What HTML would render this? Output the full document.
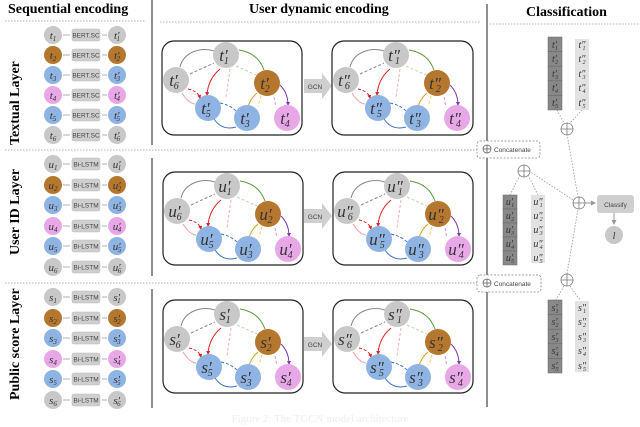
<!DOCTYPE html>
<html><head><meta charset="utf-8"><style>
html,body{margin:0;padding:0;background:#fff}
svg{display:block}
.h{font-family:"Liberation Serif",serif;font-weight:bold;font-size:14px}
.v{font-family:"Liberation Serif",serif;font-style:italic;fill:#333}
.sm{font-family:"Liberation Sans",sans-serif;font-size:6.5px;fill:#444}
</style></head><body>
<svg width="640" height="427" viewBox="0 0 640 427" xmlns="http://www.w3.org/2000/svg">
<defs>
<marker id="ar" markerWidth="5" markerHeight="5" refX="4" refY="2.5" orient="auto"><path d="M0,0L5,2.5L0,5z" fill="#999"/></marker>
<marker id="am" markerWidth="4" markerHeight="4" refX="3" refY="2" orient="auto"><path d="M0,0L4,2L0,4z" fill="context-stroke"/></marker>
</defs>
<text class="h" x="8" y="13">Sequential  encoding</text>
<text class="h" x="249" y="13">User dynamic encoding</text>
<text class="h" x="526" y="16">Classification</text>
<g stroke="#999" stroke-dasharray="1.5,1.5" stroke-width="0.8">
<line x1="5" y1="21" x2="145" y2="21"/><line x1="160" y1="22" x2="480" y2="22"/><line x1="490" y1="24" x2="640" y2="24"/>
<line x1="5" y1="150" x2="480" y2="150"/><line x1="5" y1="283" x2="480" y2="283"/>
</g>
<g stroke="#444" stroke-width="1.2">
<line x1="152" y1="0" x2="152" y2="145"/><line x1="152" y1="158" x2="152" y2="276"/><line x1="152" y1="289" x2="152" y2="408"/>
<line x1="487" y1="4" x2="487" y2="407"/>
</g>
<g class="h" font-size="15">
<text transform="translate(19,145) rotate(-90)">Textual Layer</text>
<text transform="translate(19,255) rotate(-90)">User ID Layer</text>
<text transform="translate(19,400) rotate(-90)">Public score Layer</text>
</g>

<g font-size="10">
<g>
<circle cx="53" cy="35" r="9" fill="#c8c8c8"/><circle cx="53" cy="55" r="9" fill="#b5772e"/><circle cx="53" cy="75" r="9" fill="#8fb4e3"/><circle cx="53" cy="95" r="9" fill="#e8a8e8"/><circle cx="53" cy="115" r="9" fill="#8fb4e3"/><circle cx="53" cy="135" r="9" fill="#c8c8c8"/>
<circle cx="117" cy="35" r="9" fill="#c8c8c8"/><circle cx="117" cy="55" r="9" fill="#b5772e"/><circle cx="117" cy="75" r="9" fill="#8fb4e3"/><circle cx="117" cy="95" r="9" fill="#e8a8e8"/><circle cx="117" cy="115" r="9" fill="#8fb4e3"/><circle cx="117" cy="135" r="9" fill="#c8c8c8"/>
<circle cx="53" cy="164" r="9" fill="#c8c8c8"/><circle cx="53" cy="185" r="9" fill="#b5772e"/><circle cx="53" cy="205" r="9" fill="#8fb4e3"/><circle cx="53" cy="226" r="9" fill="#e8a8e8"/><circle cx="53" cy="246" r="9" fill="#8fb4e3"/><circle cx="53" cy="267" r="9" fill="#c8c8c8"/>
<circle cx="117" cy="164" r="9" fill="#c8c8c8"/><circle cx="117" cy="185" r="9" fill="#b5772e"/><circle cx="117" cy="205" r="9" fill="#8fb4e3"/><circle cx="117" cy="226" r="9" fill="#e8a8e8"/><circle cx="117" cy="246" r="9" fill="#8fb4e3"/><circle cx="117" cy="267" r="9" fill="#c8c8c8"/>
<circle cx="53" cy="297" r="9" fill="#c8c8c8"/><circle cx="53" cy="318" r="9" fill="#b5772e"/><circle cx="53" cy="338" r="9" fill="#8fb4e3"/><circle cx="53" cy="359" r="9" fill="#e8a8e8"/><circle cx="53" cy="379" r="9" fill="#8fb4e3"/><circle cx="53" cy="400" r="9" fill="#c8c8c8"/>
<circle cx="117" cy="297" r="9" fill="#c8c8c8"/><circle cx="117" cy="318" r="9" fill="#b5772e"/><circle cx="117" cy="338" r="9" fill="#8fb4e3"/><circle cx="117" cy="359" r="9" fill="#e8a8e8"/><circle cx="117" cy="379" r="9" fill="#8fb4e3"/><circle cx="117" cy="400" r="9" fill="#c8c8c8"/>
</g>
<g fill="#cfcfcf" stroke="#bbb" stroke-width="0.5">
<rect x="72" y="29" width="28" height="12" rx="2"/><rect x="72" y="49" width="28" height="12" rx="2"/><rect x="72" y="69" width="28" height="12" rx="2"/><rect x="72" y="89" width="28" height="12" rx="2"/><rect x="72" y="109" width="28" height="12" rx="2"/><rect x="72" y="129" width="28" height="12" rx="2"/>
<rect x="72" y="158" width="28" height="12" rx="2"/><rect x="72" y="179" width="28" height="12" rx="2"/><rect x="72" y="199" width="28" height="12" rx="2"/><rect x="72" y="220" width="28" height="12" rx="2"/><rect x="72" y="240" width="28" height="12" rx="2"/><rect x="72" y="261" width="28" height="12" rx="2"/>
<rect x="72" y="291" width="28" height="12" rx="2"/><rect x="72" y="312" width="28" height="12" rx="2"/><rect x="72" y="332" width="28" height="12" rx="2"/><rect x="72" y="353" width="28" height="12" rx="2"/><rect x="72" y="373" width="28" height="12" rx="2"/><rect x="72" y="394" width="28" height="12" rx="2"/>
</g>
<g stroke="#999" stroke-width="0.8">
<path d="M63,35h7M102,35h5M63,55h7M102,55h5M63,75h7M102,75h5M63,95h7M102,95h5M63,115h7M102,115h5M63,135h7M102,135h5"/>
<path d="M63,164h7M102,164h5M63,185h7M102,185h5M63,205h7M102,205h5M63,226h7M102,226h5M63,246h7M102,246h5M63,267h7M102,267h5"/>
<path d="M63,297h7M102,297h5M63,318h7M102,318h5M63,338h7M102,338h5M63,359h7M102,359h5M63,379h7M102,379h5M63,400h7M102,400h5"/>
</g>
<g class="sm" text-anchor="middle">
<text x="86" y="37.5">BERT.SC</text><text x="86" y="57.5">BERT.SC</text><text x="86" y="77.5">BERT.SC</text><text x="86" y="97.5">BERT.SC</text><text x="86" y="117.5">BERT.SC</text><text x="86" y="137.5">BERT.SC</text>
<text x="86" y="166.5">Bi-LSTM</text><text x="86" y="187.5">Bi-LSTM</text><text x="86" y="207.5">Bi-LSTM</text><text x="86" y="228.5">Bi-LSTM</text><text x="86" y="248.5">Bi-LSTM</text><text x="86" y="269.5">Bi-LSTM</text>
<text x="86" y="299.5">Bi-LSTM</text><text x="86" y="320.5">Bi-LSTM</text><text x="86" y="340.5">Bi-LSTM</text><text x="86" y="361.5">Bi-LSTM</text><text x="86" y="381.5">Bi-LSTM</text><text x="86" y="402.5">Bi-LSTM</text>
</g>
<g class="v" font-size="11" text-anchor="middle">
<text x="53" y="39">t<tspan font-size="7" dy="2">1</tspan></text><text x="53" y="59">t<tspan font-size="7" dy="2">2</tspan></text><text x="53" y="79">t<tspan font-size="7" dy="2">3</tspan></text><text x="53" y="99">t<tspan font-size="7" dy="2">4</tspan></text><text x="53" y="119">t<tspan font-size="7" dy="2">5</tspan></text><text x="53" y="139">t<tspan font-size="7" dy="2">6</tspan></text>
<text x="117" y="39">t′<tspan font-size="7" dy="2" dx="-3">1</tspan></text><text x="117" y="59">t′<tspan font-size="7" dy="2" dx="-3">2</tspan></text><text x="117" y="79">t′<tspan font-size="7" dy="2" dx="-3">3</tspan></text><text x="117" y="99">t′<tspan font-size="7" dy="2" dx="-3">4</tspan></text><text x="117" y="119">t′<tspan font-size="7" dy="2" dx="-3">5</tspan></text><text x="117" y="139">t′<tspan font-size="7" dy="2" dx="-3">6</tspan></text>
<text x="53" y="168">u<tspan font-size="7" dy="2">1</tspan></text><text x="53" y="189">u<tspan font-size="7" dy="2">2</tspan></text><text x="53" y="209">u<tspan font-size="7" dy="2">3</tspan></text><text x="53" y="230">u<tspan font-size="7" dy="2">4</tspan></text><text x="53" y="250">u<tspan font-size="7" dy="2">5</tspan></text><text x="53" y="271">u<tspan font-size="7" dy="2">6</tspan></text>
<text x="117" y="168">u′<tspan font-size="7" dy="2" dx="-3">1</tspan></text><text x="117" y="189">u′<tspan font-size="7" dy="2" dx="-3">2</tspan></text><text x="117" y="209">u′<tspan font-size="7" dy="2" dx="-3">3</tspan></text><text x="117" y="230">u′<tspan font-size="7" dy="2" dx="-3">4</tspan></text><text x="117" y="250">u′<tspan font-size="7" dy="2" dx="-3">5</tspan></text><text x="117" y="271">u′<tspan font-size="7" dy="2" dx="-3">6</tspan></text>
<text x="53" y="301">s<tspan font-size="7" dy="2">1</tspan></text><text x="53" y="322">s<tspan font-size="7" dy="2">2</tspan></text><text x="53" y="342">s<tspan font-size="7" dy="2">3</tspan></text><text x="53" y="363">s<tspan font-size="7" dy="2">4</tspan></text><text x="53" y="383">s<tspan font-size="7" dy="2">5</tspan></text><text x="53" y="404">s<tspan font-size="7" dy="2">6</tspan></text>
<text x="117" y="301">s′<tspan font-size="7" dy="2" dx="-3">1</tspan></text><text x="117" y="322">s′<tspan font-size="7" dy="2" dx="-3">2</tspan></text><text x="117" y="342">s′<tspan font-size="7" dy="2" dx="-3">3</tspan></text><text x="117" y="363">s′<tspan font-size="7" dy="2" dx="-3">4</tspan></text><text x="117" y="383">s′<tspan font-size="7" dy="2" dx="-3">5</tspan></text><text x="117" y="404">s′<tspan font-size="7" dy="2" dx="-3">6</tspan></text>
</g>
</g>

<g fill="#cfcfcf">
<path d="M304,79h18v-6l10,13l-10,13v-6h-18z"/>
<path d="M304,209h18v-6l10,13l-10,13v-6h-18z"/>
<path d="M304,337h18v-6l10,13l-10,13v-6h-18z"/>
</g>
<g class="sm" font-size="8" text-anchor="middle"><text x="315" y="89">GCN</text><text x="315" y="219">GCN</text><text x="315" y="347">GCN</text></g>

<g fill="none" stroke="#222" stroke-width="1.2">
<rect x="162" y="41" width="140" height="94" rx="12"/><rect x="332" y="41" width="141" height="94" rx="12"/>
<rect x="163" y="172" width="140" height="93" rx="12"/><rect x="333" y="172" width="140" height="93" rx="12"/>
<rect x="163" y="300" width="140" height="93" rx="12"/><rect x="333" y="300" width="140" height="93" rx="12"/>
</g>
<g transform="translate(162,41)">
<g fill="none" stroke-width="1">
<path d="M18,26C22,10 40,6 52,10" stroke="#888"/><path d="M28,33L52,22" stroke="#888" stroke-dasharray="3,2"/>
<path d="M77,9Q96,12 102,29" stroke="#5a9a3a"/><path d="M74,25L94,34" stroke="#b8d8a0" stroke-dasharray="3,2"/>
<path d="M58,28Q46,38 45,54" stroke="#e02020" marker-end="url(#am)"/><path d="M68,28L64,56" stroke="#f4b0b0" stroke-dasharray="3,2"/>
<path d="M26,48Q36,50 38,57" stroke="#e02020" stroke-dasharray="3,2" marker-end="url(#am)"/><path d="M20,52Q26,62 33,63" stroke="#f4a0a0"/>
<path d="M58,62Q68,64 74,70" stroke="#3a70c0" stroke-dasharray="3,2"/><path d="M52,78Q60,90 74,86" stroke="#3a70c0"/>
<path d="M95,52Q88,58 86,66" stroke="#d4a020"/><path d="M99,55L96,65" stroke="#f0d060" stroke-dasharray="3,2"/>
<path d="M118,44Q126,52 126,64" stroke="#7a3aaa" marker-end="url(#am)"/><path d="M112,56L114,66" stroke="#c8a0e0" stroke-dasharray="3,2"/>
</g>
<circle cx="64" cy="14" r="13" fill="#c8c8c8"/><circle cx="14" cy="39" r="13" fill="#c8c8c8"/><circle cx="105" cy="42" r="13" fill="#b5772e"/>
<circle cx="46" cy="67" r="13" fill="#8fb4e3"/><circle cx="85" cy="77" r="13" fill="#8fb4e3"/><circle cx="125" cy="77" r="13" fill="#e8a8e8"/>
</g>
<g transform="translate(332,41)">
<g fill="none" stroke-width="1">
<path d="M18,26C22,10 40,6 52,10" stroke="#888"/><path d="M28,33L52,22" stroke="#888" stroke-dasharray="3,2"/>
<path d="M77,9Q96,12 102,29" stroke="#5a9a3a"/><path d="M74,25L94,34" stroke="#b8d8a0" stroke-dasharray="3,2"/>
<path d="M58,28Q46,38 45,54" stroke="#e02020" marker-end="url(#am)"/><path d="M68,28L64,56" stroke="#f4b0b0" stroke-dasharray="3,2"/>
<path d="M26,48Q36,50 38,57" stroke="#e02020" stroke-dasharray="3,2" marker-end="url(#am)"/><path d="M20,52Q26,62 33,63" stroke="#f4a0a0"/>
<path d="M58,62Q68,64 74,70" stroke="#3a70c0" stroke-dasharray="3,2"/><path d="M52,78Q60,90 74,86" stroke="#3a70c0"/>
<path d="M95,52Q88,58 86,66" stroke="#d4a020"/><path d="M99,55L96,65" stroke="#f0d060" stroke-dasharray="3,2"/>
<path d="M118,44Q126,52 126,64" stroke="#7a3aaa" marker-end="url(#am)"/><path d="M112,56L114,66" stroke="#c8a0e0" stroke-dasharray="3,2"/>
</g>
<circle cx="64" cy="14" r="13" fill="#c8c8c8"/><circle cx="14" cy="39" r="13" fill="#c8c8c8"/><circle cx="105" cy="42" r="13" fill="#b5772e"/>
<circle cx="46" cy="67" r="13" fill="#8fb4e3"/><circle cx="85" cy="77" r="13" fill="#8fb4e3"/><circle cx="125" cy="77" r="13" fill="#e8a8e8"/>
</g>
<g transform="translate(163,172)">
<g fill="none" stroke-width="1">
<path d="M18,26C22,10 40,6 52,10" stroke="#888"/><path d="M28,33L52,22" stroke="#888" stroke-dasharray="3,2"/>
<path d="M77,9Q96,12 102,29" stroke="#5a9a3a"/><path d="M74,25L94,34" stroke="#b8d8a0" stroke-dasharray="3,2"/>
<path d="M58,28Q46,38 45,54" stroke="#e02020" marker-end="url(#am)"/><path d="M68,28L64,56" stroke="#f4b0b0" stroke-dasharray="3,2"/>
<path d="M26,48Q36,50 38,57" stroke="#e02020" stroke-dasharray="3,2" marker-end="url(#am)"/><path d="M20,52Q26,62 33,63" stroke="#f4a0a0"/>
<path d="M58,62Q68,64 74,70" stroke="#3a70c0" stroke-dasharray="3,2"/><path d="M52,78Q60,90 74,86" stroke="#3a70c0"/>
<path d="M95,52Q88,58 86,66" stroke="#d4a020"/><path d="M99,55L96,65" stroke="#f0d060" stroke-dasharray="3,2"/>
<path d="M118,44Q126,52 126,64" stroke="#7a3aaa" marker-end="url(#am)"/><path d="M112,56L114,66" stroke="#c8a0e0" stroke-dasharray="3,2"/>
</g>
<circle cx="64" cy="14" r="13" fill="#c8c8c8"/><circle cx="14" cy="39" r="13" fill="#c8c8c8"/><circle cx="105" cy="42" r="13" fill="#b5772e"/>
<circle cx="46" cy="67" r="13" fill="#8fb4e3"/><circle cx="85" cy="77" r="13" fill="#8fb4e3"/><circle cx="125" cy="77" r="13" fill="#e8a8e8"/>
</g>
<g transform="translate(333,172)">
<g fill="none" stroke-width="1">
<path d="M18,26C22,10 40,6 52,10" stroke="#888"/><path d="M28,33L52,22" stroke="#888" stroke-dasharray="3,2"/>
<path d="M77,9Q96,12 102,29" stroke="#5a9a3a"/><path d="M74,25L94,34" stroke="#b8d8a0" stroke-dasharray="3,2"/>
<path d="M58,28Q46,38 45,54" stroke="#e02020" marker-end="url(#am)"/><path d="M68,28L64,56" stroke="#f4b0b0" stroke-dasharray="3,2"/>
<path d="M26,48Q36,50 38,57" stroke="#e02020" stroke-dasharray="3,2" marker-end="url(#am)"/><path d="M20,52Q26,62 33,63" stroke="#f4a0a0"/>
<path d="M58,62Q68,64 74,70" stroke="#3a70c0" stroke-dasharray="3,2"/><path d="M52,78Q60,90 74,86" stroke="#3a70c0"/>
<path d="M95,52Q88,58 86,66" stroke="#d4a020"/><path d="M99,55L96,65" stroke="#f0d060" stroke-dasharray="3,2"/>
<path d="M118,44Q126,52 126,64" stroke="#7a3aaa" marker-end="url(#am)"/><path d="M112,56L114,66" stroke="#c8a0e0" stroke-dasharray="3,2"/>
</g>
<circle cx="64" cy="14" r="13" fill="#c8c8c8"/><circle cx="14" cy="39" r="13" fill="#c8c8c8"/><circle cx="105" cy="42" r="13" fill="#b5772e"/>
<circle cx="46" cy="67" r="13" fill="#8fb4e3"/><circle cx="85" cy="77" r="13" fill="#8fb4e3"/><circle cx="125" cy="77" r="13" fill="#e8a8e8"/>
</g>
<g transform="translate(163,300)">
<g fill="none" stroke-width="1">
<path d="M18,26C22,10 40,6 52,10" stroke="#888"/><path d="M28,33L52,22" stroke="#888" stroke-dasharray="3,2"/>
<path d="M77,9Q96,12 102,29" stroke="#5a9a3a"/><path d="M74,25L94,34" stroke="#b8d8a0" stroke-dasharray="3,2"/>
<path d="M58,28Q46,38 45,54" stroke="#e02020" marker-end="url(#am)"/><path d="M68,28L64,56" stroke="#f4b0b0" stroke-dasharray="3,2"/>
<path d="M26,48Q36,50 38,57" stroke="#e02020" stroke-dasharray="3,2" marker-end="url(#am)"/><path d="M20,52Q26,62 33,63" stroke="#f4a0a0"/>
<path d="M58,62Q68,64 74,70" stroke="#3a70c0" stroke-dasharray="3,2"/><path d="M52,78Q60,90 74,86" stroke="#3a70c0"/>
<path d="M95,52Q88,58 86,66" stroke="#d4a020"/><path d="M99,55L96,65" stroke="#f0d060" stroke-dasharray="3,2"/>
<path d="M118,44Q126,52 126,64" stroke="#7a3aaa" marker-end="url(#am)"/><path d="M112,56L114,66" stroke="#c8a0e0" stroke-dasharray="3,2"/>
</g>
<circle cx="64" cy="14" r="13" fill="#c8c8c8"/><circle cx="14" cy="39" r="13" fill="#c8c8c8"/><circle cx="105" cy="42" r="13" fill="#b5772e"/>
<circle cx="46" cy="67" r="13" fill="#8fb4e3"/><circle cx="85" cy="77" r="13" fill="#8fb4e3"/><circle cx="125" cy="77" r="13" fill="#e8a8e8"/>
</g>
<g transform="translate(333,300)">
<g fill="none" stroke-width="1">
<path d="M18,26C22,10 40,6 52,10" stroke="#888"/><path d="M28,33L52,22" stroke="#888" stroke-dasharray="3,2"/>
<path d="M77,9Q96,12 102,29" stroke="#5a9a3a"/><path d="M74,25L94,34" stroke="#b8d8a0" stroke-dasharray="3,2"/>
<path d="M58,28Q46,38 45,54" stroke="#e02020" marker-end="url(#am)"/><path d="M68,28L64,56" stroke="#f4b0b0" stroke-dasharray="3,2"/>
<path d="M26,48Q36,50 38,57" stroke="#e02020" stroke-dasharray="3,2" marker-end="url(#am)"/><path d="M20,52Q26,62 33,63" stroke="#f4a0a0"/>
<path d="M58,62Q68,64 74,70" stroke="#3a70c0" stroke-dasharray="3,2"/><path d="M52,78Q60,90 74,86" stroke="#3a70c0"/>
<path d="M95,52Q88,58 86,66" stroke="#d4a020"/><path d="M99,55L96,65" stroke="#f0d060" stroke-dasharray="3,2"/>
<path d="M118,44Q126,52 126,64" stroke="#7a3aaa" marker-end="url(#am)"/><path d="M112,56L114,66" stroke="#c8a0e0" stroke-dasharray="3,2"/>
</g>
<circle cx="64" cy="14" r="13" fill="#c8c8c8"/><circle cx="14" cy="39" r="13" fill="#c8c8c8"/><circle cx="105" cy="42" r="13" fill="#b5772e"/>
<circle cx="46" cy="67" r="13" fill="#8fb4e3"/><circle cx="85" cy="77" r="13" fill="#8fb4e3"/><circle cx="125" cy="77" r="13" fill="#e8a8e8"/>
</g>
<g class="v" font-size="17" text-anchor="middle">
<text x="224" y="61">t′<tspan font-size="10" dy="3" dx="-4">1</tspan></text><text x="174" y="86">t′<tspan font-size="10" dy="3" dx="-4">6</tspan></text><text x="265" y="89">t′<tspan font-size="10" dy="3" dx="-4">2</tspan></text><text x="206" y="114">t′<tspan font-size="10" dy="3" dx="-4">5</tspan></text><text x="245" y="124">t′<tspan font-size="10" dy="3" dx="-4">3</tspan></text><text x="285" y="124">t′<tspan font-size="10" dy="3" dx="-4">4</tspan></text>
<text x="394" y="61">t″<tspan font-size="10" dy="3" dx="-5">1</tspan></text><text x="344" y="86">t″<tspan font-size="10" dy="3" dx="-5">6</tspan></text><text x="435" y="89">t″<tspan font-size="10" dy="3" dx="-5">2</tspan></text><text x="376" y="114">t″<tspan font-size="10" dy="3" dx="-5">5</tspan></text><text x="415" y="124">t″<tspan font-size="10" dy="3" dx="-5">3</tspan></text><text x="455" y="124">t″<tspan font-size="10" dy="3" dx="-5">4</tspan></text>
<text x="225" y="192">u′<tspan font-size="10" dy="3" dx="-4">1</tspan></text><text x="175" y="217">u′<tspan font-size="10" dy="3" dx="-4">6</tspan></text><text x="266" y="220">u′<tspan font-size="10" dy="3" dx="-4">2</tspan></text><text x="207" y="245">u′<tspan font-size="10" dy="3" dx="-4">5</tspan></text><text x="246" y="255">u′<tspan font-size="10" dy="3" dx="-4">3</tspan></text><text x="286" y="255">u′<tspan font-size="10" dy="3" dx="-4">4</tspan></text>
<text x="395" y="192">u″<tspan font-size="10" dy="3" dx="-5">1</tspan></text><text x="345" y="217">u″<tspan font-size="10" dy="3" dx="-5">6</tspan></text><text x="436" y="220">u″<tspan font-size="10" dy="3" dx="-5">2</tspan></text><text x="377" y="245">u″<tspan font-size="10" dy="3" dx="-5">5</tspan></text><text x="416" y="255">u″<tspan font-size="10" dy="3" dx="-5">3</tspan></text><text x="456" y="255">u″<tspan font-size="10" dy="3" dx="-5">4</tspan></text>
<text x="225" y="320">s′<tspan font-size="10" dy="3" dx="-4">1</tspan></text><text x="175" y="345">s′<tspan font-size="10" dy="3" dx="-4">6</tspan></text><text x="266" y="348">s′<tspan font-size="10" dy="3" dx="-4">2</tspan></text><text x="207" y="373">s′<tspan font-size="10" dy="3" dx="-4">5</tspan></text><text x="246" y="383">s′<tspan font-size="10" dy="3" dx="-4">3</tspan></text><text x="286" y="383">s′<tspan font-size="10" dy="3" dx="-4">4</tspan></text>
<text x="395" y="320">s″<tspan font-size="10" dy="3" dx="-5">1</tspan></text><text x="345" y="345">s″<tspan font-size="10" dy="3" dx="-5">6</tspan></text><text x="436" y="348">s″<tspan font-size="10" dy="3" dx="-5">2</tspan></text><text x="377" y="373">s″<tspan font-size="10" dy="3" dx="-5">5</tspan></text><text x="416" y="383">s″<tspan font-size="10" dy="3" dx="-5">3</tspan></text><text x="456" y="383">s″<tspan font-size="10" dy="3" dx="-5">4</tspan></text>
</g>

<g stroke="#999" stroke-dasharray="1.5,1.5" stroke-width="0.8" fill="none">
<path d="M557,110L564,123M582,110L570,123M567,134L578,197"/>
<path d="M520,175L510,195M528,175L538,195M529,171L573,200"/>
<path d="M567,274L578,209M564,286L556,300M570,286L580,300"/>
<path d="M440,150H478M440,283H478"/>
</g>
<g fill="#888" stroke="#666" stroke-width="0.5">
<rect x="548" y="37" width="14" height="14.6"/><rect x="548" y="51.6" width="14" height="14.6"/><rect x="548" y="66.2" width="14" height="14.6"/><rect x="548" y="80.8" width="14" height="14.6"/><rect x="548" y="95.4" width="14" height="14.6"/>
<rect x="503" y="195" width="14" height="14"/><rect x="503" y="209" width="14" height="14"/><rect x="503" y="223" width="14" height="14"/><rect x="503" y="237" width="14" height="14"/><rect x="503" y="251" width="14" height="14"/>
<rect x="548" y="300" width="14" height="14.6"/><rect x="548" y="314.6" width="14" height="14.6"/><rect x="548" y="329.2" width="14" height="14.6"/><rect x="548" y="343.8" width="14" height="14.6"/><rect x="548" y="358.4" width="14" height="14.6"/>
</g>
<g fill="#e2e2e2">
<rect x="575" y="39" width="14" height="71"/><rect x="531" y="195" width="14" height="68"/><rect x="575" y="301" width="14" height="71"/>
</g>
<g class="v" font-size="10" text-anchor="middle" fill="#222">
<text x="555" y="48">t′<tspan font-size="6" dy="2" dx="-2">1</tspan></text><text x="555" y="62">t′<tspan font-size="6" dy="2" dx="-2">2</tspan></text><text x="555" y="77">t′<tspan font-size="6" dy="2" dx="-2">3</tspan></text><text x="555" y="91">t′<tspan font-size="6" dy="2" dx="-2">4</tspan></text><text x="555" y="106">t′<tspan font-size="6" dy="2" dx="-2">5</tspan></text>
<text x="582" y="48">t″<tspan font-size="6" dy="2" dx="-3">1</tspan></text><text x="582" y="62">t″<tspan font-size="6" dy="2" dx="-3">2</tspan></text><text x="582" y="77">t″<tspan font-size="6" dy="2" dx="-3">3</tspan></text><text x="582" y="91">t″<tspan font-size="6" dy="2" dx="-3">4</tspan></text><text x="582" y="106">t″<tspan font-size="6" dy="2" dx="-3">5</tspan></text>
<text x="510" y="205">u′<tspan font-size="6" dy="2" dx="-2">1</tspan></text><text x="510" y="219">u′<tspan font-size="6" dy="2" dx="-2">2</tspan></text><text x="510" y="233">u′<tspan font-size="6" dy="2" dx="-2">3</tspan></text><text x="510" y="247">u′<tspan font-size="6" dy="2" dx="-2">4</tspan></text><text x="510" y="261">u′<tspan font-size="6" dy="2" dx="-2">5</tspan></text>
<text x="538" y="205">u″<tspan font-size="6" dy="2" dx="-3">1</tspan></text><text x="538" y="219">u″<tspan font-size="6" dy="2" dx="-3">2</tspan></text><text x="538" y="233">u″<tspan font-size="6" dy="2" dx="-3">3</tspan></text><text x="538" y="247">u″<tspan font-size="6" dy="2" dx="-3">4</tspan></text><text x="538" y="261">u″<tspan font-size="6" dy="2" dx="-3">5</tspan></text>
<text x="555" y="311">s′<tspan font-size="6" dy="2" dx="-2">1</tspan></text><text x="555" y="325">s′<tspan font-size="6" dy="2" dx="-2">2</tspan></text><text x="555" y="340">s′<tspan font-size="6" dy="2" dx="-2">3</tspan></text><text x="555" y="354">s′<tspan font-size="6" dy="2" dx="-2">4</tspan></text><text x="555" y="369">s′<tspan font-size="6" dy="2" dx="-2">5</tspan></text>
<text x="582" y="311">s″<tspan font-size="6" dy="2" dx="-3">1</tspan></text><text x="582" y="325">s″<tspan font-size="6" dy="2" dx="-3">2</tspan></text><text x="582" y="340">s″<tspan font-size="6" dy="2" dx="-3">3</tspan></text><text x="582" y="354">s″<tspan font-size="6" dy="2" dx="-3">4</tspan></text><text x="582" y="369">s″<tspan font-size="6" dy="2" dx="-3">5</tspan></text>
</g>
<g fill="#fff" stroke="#777" stroke-width="0.8">
<circle cx="567" cy="129" r="6"/><path d="M561,129h12M567,123v12"/>
<circle cx="524" cy="171" r="6"/><path d="M518,171h12M524,165v12"/>
<circle cx="579" cy="203" r="6"/><path d="M573,203h12M579,197v12"/>
<circle cx="567" cy="280" r="6"/><path d="M561,280h12M567,274v12"/>
</g>
<g fill="#fff" stroke="#888" stroke-width="0.8" stroke-dasharray="2,1.5">
<rect x="477" y="141" width="63" height="17" rx="3"/><rect x="477" y="275" width="64" height="17" rx="3"/>
</g>
<g fill="none" stroke="#555" stroke-width="0.7">
<circle cx="487" cy="149" r="4"/><path d="M483,149h8M487,145v8"/>
<circle cx="487" cy="283" r="4"/><path d="M483,283h8M487,279v8"/>
</g>
<g class="sm" font-size="7"><text x="494" y="152">Concatenate</text><text x="494" y="286">Concatenate</text></g>
<line x1="585" y1="203" x2="595" y2="203" stroke="#999" marker-end="url(#ar)"/>
<rect x="597" y="195" width="37" height="18" rx="3" fill="#cfcfcf"/>
<text x="615.5" y="207" class="sm" font-size="8" text-anchor="middle">Classify</text>
<line x1="614" y1="213" x2="614" y2="224" stroke="#999" marker-end="url(#ar)"/>
<circle cx="614" cy="235" r="9" fill="#c8c8c8"/>
<text x="614" y="239" class="v" font-size="10" text-anchor="middle">l</text>
<text x="320" y="422" font-family="Liberation Serif,serif" font-size="11" fill="#eeeeee" text-anchor="middle">Figure 2: The TGCN model architecture</text>
</svg>
</body></html>
